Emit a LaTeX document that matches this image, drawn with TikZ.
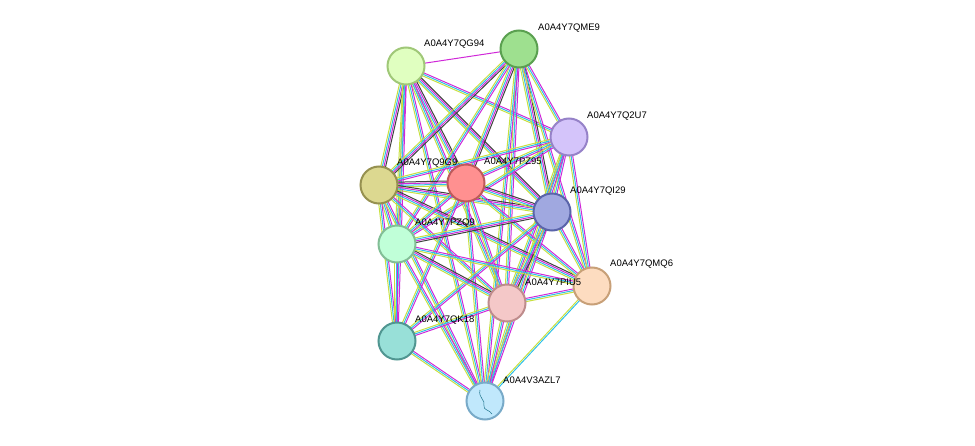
\documentclass[tikz,border=0pt]{standalone}
\usepackage{fontspec}
\setmainfont{Liberation Sans}
\usetikzlibrary{calc}
\definecolor{tmc}{HTML}{C8E040}
\definecolor{dbc}{HTML}{30C0E8}
\definecolor{exc}{HTML}{D028D8}
\definecolor{coc}{HTML}{404040}
\tikzset{
 tm/.style={tmc,line width=1pt}, db/.style={dbc,line width=1pt},
 ex/.style={exc,line width=1pt}, co/.style={coc,line width=1pt},
 prot/.style={circle,minimum size=37pt,inner sep=0pt,line width=2pt},
 lab/.style={font=\fontsize{9.5}{11}\selectfont,anchor=west,inner sep=1pt}
}
\newcommand\E[2]{\foreach \c/\o in {tm/-2.4,db/-0.8,ex/0.8}{\draw[\c] ($(#1)!\o pt!90:(#2)$) -- ($(#2)!\o pt!-90:(#1)$);}}
\newcommand\EB[2]{\foreach \c/\o in {tm/-2.4,db/-0.8,ex/0.8,co/2.4}{\draw[\c] ($(#1)!\o pt!90:(#2)$) -- ($(#2)!\o pt!-90:(#1)$);}}
\newcommand\ET[2]{\foreach \c/\o in {tm/-0.8,db/0.8}{\draw[\c] ($(#1)!\o pt!90:(#2)$) -- ($(#2)!\o pt!-90:(#1)$);}}
\begin{document}
\begin{tikzpicture}[x=1pt,y=-1pt]
\useasboundingbox (0,0) rectangle (975,446);
\coordinate (ME9) at (519,49);
\coordinate (G94) at (406,66);
\coordinate (U7) at (569,137);
\coordinate (G9) at (379,185);
\coordinate (Z95) at (466,183);
\coordinate (I29) at (552,212);
\coordinate (ZQ9) at (397,244);
\coordinate (MQ6) at (592,286);
\coordinate (IU5) at (507,303);
\coordinate (K18) at (397,341);
\coordinate (AZL) at (485,401);
% edges
\draw[ex] (G94) -- (ME9);
\EB{G94}{G9}\EB{G94}{Z95}\EB{G94}{I29}\E{G94}{ZQ9}\E{G94}{IU5}\E{G94}{K18}\E{G94}{AZL}\E{G94}{U7}
\EB{ME9}{G9}\EB{ME9}{Z95}\E{ME9}{U7}\EB{ME9}{I29}\E{ME9}{ZQ9}\E{ME9}{IU5}\E{ME9}{MQ6}\E{ME9}{AZL}
\E{U7}{G9}\E{U7}{Z95}\E{U7}{I29}\E{U7}{ZQ9}\E{U7}{IU5}\E{U7}{MQ6}\E{U7}{AZL}
\EB{G9}{Z95}\EB{G9}{I29}\E{G9}{ZQ9}\E{G9}{IU5}\E{G9}{K18}\E{G9}{AZL}\EB{G9}{MQ6}
\EB{Z95}{I29}\E{Z95}{ZQ9}\E{Z95}{IU5}\E{Z95}{MQ6}\E{Z95}{K18}\E{Z95}{AZL}
\EB{I29}{ZQ9}\EB{I29}{IU5}\E{I29}{MQ6}\E{I29}{K18}\E{I29}{AZL}
\EB{ZQ9}{IU5}\E{ZQ9}{MQ6}\E{ZQ9}{K18}\E{ZQ9}{AZL}
\E{IU5}{MQ6}\E{IU5}{K18}\E{IU5}{AZL}
\ET{MQ6}{AZL}
\E{K18}{AZL}
% nodes
\node[prot,fill={rgb,255:red,158;green,224;blue,143},draw={rgb,255:red,90;green,160;blue,80}] (nME9) at (ME9) {};
\node[prot,fill={rgb,255:red,224;green,255;blue,192},draw={rgb,255:red,160;green,200;blue,120}] (nG94) at (G94) {};
\node[prot,fill={rgb,255:red,212;green,196;blue,250},draw={rgb,255:red,150;green,130;blue,200}] (nU7) at (U7) {};
\node[prot,fill={rgb,255:red,220;green,216;blue,144},draw={rgb,255:red,150;green,145;blue,80}] (nG9) at (G9) {};
\node[prot,fill={rgb,255:red,255;green,144;blue,144},draw={rgb,255:red,190;green,90;blue,90}] (nZ95) at (Z95) {};
\node[prot,fill={rgb,255:red,160;green,168;blue,224},draw={rgb,255:red,90;green,100;blue,170}] (nI29) at (I29) {};
\node[prot,fill={rgb,255:red,192;green,255;blue,216},draw={rgb,255:red,130;green,190;blue,150}] (nZQ9) at (ZQ9) {};
\node[prot,fill={rgb,255:red,253;green,220;blue,192},draw={rgb,255:red,200;green,160;blue,120}] (nMQ6) at (MQ6) {};
\node[prot,fill={rgb,255:red,244;green,200;blue,200},draw={rgb,255:red,190;green,140;blue,140}] (nIU5) at (IU5) {};
\node[prot,fill={rgb,255:red,152;green,224;blue,216},draw={rgb,255:red,80;green,150;blue,145}] (nK18) at (K18) {};
\node[prot,fill={rgb,255:red,192;green,232;blue,252},draw={rgb,255:red,120;green,170;blue,200}] (nAZL) at (AZL) {};
\draw[dbc!60!black,line width=0.5pt] (480,390) .. controls (478,398) and (486,400) .. (484,406) .. controls (483,410) and (490,410) .. (492,414);
% labels
\node[lab] at (537,28) {A0A4Y7QME9};
\node[lab] at (423,44) {A0A4Y7QG94};
\node[lab] at (586,116) {A0A4Y7Q2U7};
\node[lab] at (396,163) {A0A4Y7Q9G9};
\node[lab] at (483,161) {A0A4Y7PZ95};
\node[lab] at (569,191) {A0A4Y7QI29};
\node[lab] at (414,223) {A0A4Y7PZQ9};
\node[lab] at (609,264) {A0A4Y7QMQ6};
\node[lab] at (524,282) {A0A4Y7PIU5};
\node[lab] at (414,320) {A0A4Y7QK18};
\node[lab] at (502,380) {A0A4V3AZL7};
\end{tikzpicture}
\end{document}
